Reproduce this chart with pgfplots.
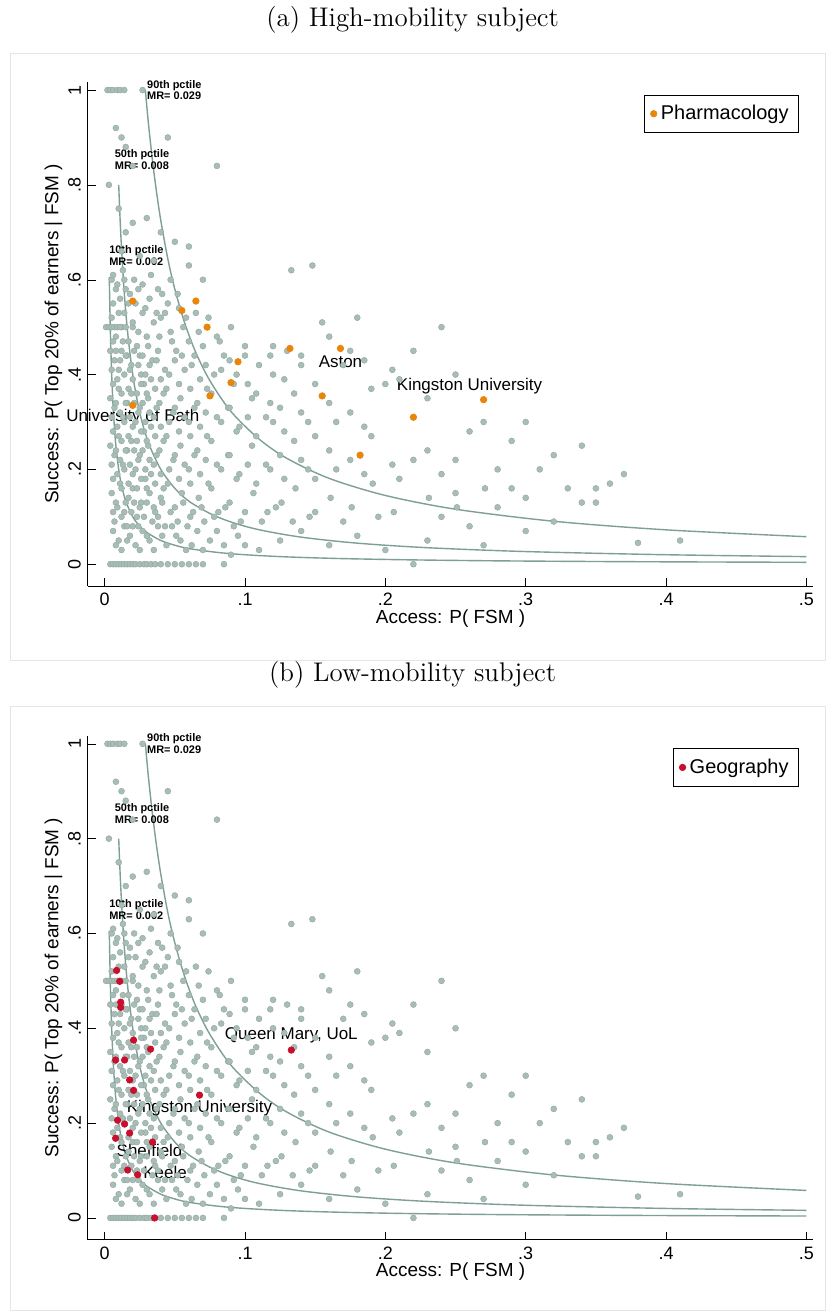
\documentclass[border=0pt]{standalone}
\usepackage{pgfplots}
\pgfplotsset{compat=1.18}
\usepackage{pgfplotstable}
\usepackage{fontspec}
\newfontfamily\arial{Liberation Sans}
\definecolor{gpt}{HTML}{A9BDB7}
\definecolor{gedge}{HTML}{8FA8A1}
\definecolor{crv}{HTML}{7E9E98}
\definecolor{orng}{HTML}{E8860C}
\definecolor{crim}{HTML}{C8102E}
\pgfplotstableread{
x y
0.004 0
0.006 0
0.008 0
0.010 0
0.012 0
0.014 0
0.016 0
0.018 0
0.020 0
0.022 0
0.025 0
0.028 0
0.030 0
0.033 0
0.036 0
0.040 0
0.045 0
0.050 0
0.055 0
0.060 0
0.065 0
0.070 0
0.085 0
0.220 0
0.002 1
0.004 1
0.006 1
0.009 1
0.011 1
0.014 1
0.027 1
0.001 0.5
0.003 0.5
0.005 0.5
0.007 0.5
0.009 0.5
0.012 0.5
0.015 0.5
0.008 0.92
0.012 0.90
0.015 0.88
0.020 0.84
0.045 0.90
0.080 0.84
0.003 0.80
0.010 0.75
0.015 0.70
0.020 0.72
0.030 0.73
0.040 0.70
0.050 0.68
0.060 0.67
0.012 0.66
0.025 0.65
0.035 0.64
0.060 0.63
0.070 0.60
0.148 0.63
0.133 0.62
0.180 0.52
0.240 0.50
0.155 0.51
0.005 0.60
0.008 0.58
0.011 0.56
0.014 0.60
0.018 0.57
0.022 0.55
0.027 0.59
0.032 0.56
0.038 0.58
0.045 0.55
0.052 0.57
0.058 0.52
0.065 0.53
0.004 0.45
0.007 0.43
0.010 0.41
0.013 0.47
0.016 0.44
0.019 0.42
0.023 0.46
0.026 0.40
0.030 0.48
0.034 0.43
0.038 0.45
0.043 0.41
0.048 0.47
0.055 0.44
0.062 0.42
0.070 0.46
0.078 0.40
0.085 0.44
0.092 0.38
0.100 0.46
0.110 0.42
0.120 0.40
0.004 0.35
0.007 0.33
0.010 0.37
0.013 0.31
0.016 0.34
0.019 0.36
0.022 0.30
0.025 0.33
0.028 0.38
0.031 0.35
0.035 0.31
0.039 0.34
0.044 0.37
0.049 0.32
0.054 0.35
0.060 0.30
0.066 0.34
0.073 0.37
0.080 0.31
0.088 0.33
0.096 0.29
0.105 0.35
0.115 0.31
0.125 0.33
0.135 0.36
0.145 0.30
0.160 0.34
0.175 0.32
0.190 0.37
0.205 0.41
0.004 0.25
0.007 0.23
0.010 0.27
0.013 0.21
0.016 0.24
0.019 0.26
0.022 0.20
0.025 0.23
0.028 0.28
0.031 0.25
0.035 0.21
0.039 0.24
0.044 0.27
0.049 0.22
0.054 0.25
0.060 0.20
0.066 0.24
0.073 0.27
0.080 0.21
0.088 0.23
0.096 0.19
0.105 0.25
0.115 0.21
0.125 0.23
0.135 0.26
0.145 0.20
0.160 0.24
0.175 0.22
0.190 0.27
0.205 0.21
0.230 0.24
0.250 0.22
0.270 0.30
0.280 0.20
0.300 0.30
0.320 0.23
0.340 0.25
0.005 0.15
0.008 0.13
0.011 0.17
0.014 0.11
0.017 0.14
0.020 0.16
0.023 0.10
0.026 0.13
0.029 0.18
0.032 0.15
0.036 0.11
0.040 0.14
0.045 0.17
0.050 0.12
0.055 0.15
0.061 0.10
0.067 0.14
0.074 0.17
0.081 0.11
0.089 0.13
0.097 0.09
0.106 0.15
0.116 0.11
0.126 0.13
0.136 0.16
0.146 0.10
0.161 0.14
0.176 0.12
0.191 0.17
0.206 0.11
0.231 0.14
0.251 0.12
0.271 0.16
0.290 0.16
0.310 0.20
0.350 0.16
0.360 0.17
0.370 0.19
0.006 0.07
0.010 0.05
0.014 0.08
0.018 0.06
0.022 0.04
0.027 0.07
0.032 0.05
0.038 0.08
0.044 0.04
0.051 0.06
0.058 0.03
0.066 0.07
0.075 0.05
0.085 0.04
0.095 0.06
0.110 0.03
0.125 0.05
0.140 0.07
0.160 0.04
0.180 0.06
0.200 0.03
0.230 0.05
0.260 0.08
0.300 0.07
0.380 0.045
0.410 0.05
0.020 0.50
0.040 0.52
0.080 0.48
0.100 0.44
0.120 0.46
0.170 0.42
0.200 0.38
0.250 0.40
0.230 0.35
0.260 0.28
0.290 0.26
0.330 0.16
0.340 0.13
0.006 0.61
0.009 0.59
0.013 0.62
0.017 0.55
0.021 0.60
0.024 0.58
0.029 0.54
0.033 0.61
0.037 0.53
0.041 0.57
0.047 0.60
0.053 0.54
0.006 0.55
0.010 0.53
0.015 0.58
0.005 0.52
0.008 0.48
0.011 0.50
0.014 0.53
0.017 0.47
0.020 0.51
0.024 0.49
0.027 0.53
0.031 0.46
0.035 0.51
0.039 0.48
0.043 0.53
0.047 0.49
0.051 0.45
0.056 0.50
0.060 0.47
0.067 0.49
0.074 0.52
0.082 0.47
0.090 0.50
0.006 0.47
0.012 0.45
0.025 0.44
0.005 0.41
0.006 0.38
0.008 0.45
0.009 0.39
0.011 0.43
0.012 0.36
0.014 0.40
0.015 0.44
0.017 0.37
0.018 0.41
0.020 0.39
0.021 0.45
0.023 0.36
0.024 0.42
0.026 0.38
0.027 0.44
0.029 0.40
0.030 0.36
0.032 0.42
0.033 0.39
0.036 0.37
0.037 0.43
0.040 0.39
0.042 0.36
0.046 0.40
0.050 0.43
0.053 0.38
0.057 0.41
0.061 0.37
0.064 0.44
0.068 0.39
0.072 0.42
0.076 0.36
0.083 0.41
0.089 0.43
0.094 0.40
0.102 0.38
0.108 0.36
0.118 0.44
0.128 0.39
0.140 0.42
0.005 0.31
0.006 0.28
0.008 0.34
0.009 0.29
0.011 0.32
0.012 0.26
0.014 0.30
0.015 0.34
0.017 0.27
0.018 0.31
0.020 0.29
0.021 0.34
0.023 0.26
0.024 0.32
0.026 0.28
0.027 0.34
0.029 0.30
0.030 0.26
0.032 0.32
0.033 0.29
0.036 0.27
0.037 0.33
0.040 0.29
0.042 0.26
0.046 0.30
0.050 0.33
0.053 0.28
0.057 0.31
0.061 0.27
0.064 0.33
0.068 0.29
0.072 0.32
0.076 0.26
0.083 0.30
0.089 0.33
0.094 0.28
0.102 0.31
0.108 0.27
0.118 0.34
0.128 0.28
0.140 0.32
0.150 0.27
0.165 0.30
0.185 0.29
0.005 0.21
0.006 0.18
0.008 0.24
0.009 0.19
0.011 0.22
0.012 0.16
0.014 0.20
0.015 0.24
0.017 0.17
0.018 0.21
0.020 0.19
0.021 0.24
0.023 0.16
0.024 0.22
0.026 0.18
0.027 0.24
0.029 0.20
0.030 0.16
0.032 0.22
0.033 0.19
0.036 0.17
0.037 0.23
0.040 0.19
0.042 0.16
0.046 0.20
0.050 0.23
0.053 0.18
0.057 0.21
0.061 0.17
0.064 0.23
0.068 0.19
0.072 0.22
0.076 0.16
0.083 0.20
0.089 0.23
0.094 0.18
0.102 0.21
0.108 0.17
0.118 0.20
0.128 0.18
0.140 0.22
0.150 0.18
0.165 0.20
0.185 0.19
0.210 0.18
0.240 0.19
0.006 0.11
0.007 0.09
0.009 0.12
0.012 0.10
0.015 0.13
0.016 0.08
0.019 0.11
0.021 0.13
0.024 0.08
0.025 0.12
0.028 0.10
0.030 0.13
0.034 0.09
0.035 0.12
0.038 0.10
0.041 0.13
0.043 0.08
0.047 0.11
0.052 0.09
0.056 0.13
0.059 0.08
0.063 0.11
0.069 0.12
0.071 0.09
0.078 0.10
0.086 0.12
0.092 0.08
0.100 0.11
0.112 0.09
0.122 0.12
0.134 0.09
0.150 0.11
0.170 0.09
0.195 0.10
0.008 0.04
0.012 0.03
0.016 0.05
0.020 0.08
0.025 0.03
0.030 0.06
0.035 0.03
0.041 0.06
0.048 0.08
0.054 0.05
0.062 0.04
0.070 0.03
0.080 0.07
0.090 0.02
0.100 0.04
0.130 0.45
0.140 0.44
0.160 0.48
0.175 0.45
0.185 0.43
0.210 0.39
0.220 0.45
0.150 0.38
0.120 0.30
0.220 0.22
0.250 0.15
0.280 0.12
0.300 0.14
0.320 0.09
0.350 0.13
0.240 0.10
0.270 0.04
}\grey
\pgfplotstableread{
x y
0.020 0.555
0.055 0.535
0.065 0.555
0.073 0.500
0.095 0.427
0.090 0.383
0.075 0.355
0.020 0.335
0.132 0.455
0.168 0.455
0.155 0.355
0.220 0.310
0.182 0.230
0.270 0.347
}\pharm
\pgfplotstableread{
x y
0.0085 0.522
0.0107 0.499
0.0114 0.455
0.0114 0.444
0.0206 0.375
0.0327 0.356
0.0078 0.333
0.0142 0.333
0.0178 0.291
0.0206 0.269
0.0676 0.259
0.1330 0.354
0.0092 0.206
0.0142 0.198
0.0178 0.179
0.0078 0.168
0.0341 0.160
0.0164 0.101
0.0235 0.091
0.0356 0.000
}\geog
\pgfplotstableread{
x y
0.0033 0.606
0.0036 0.556
0.0040 0.500
0.0045 0.444
0.0050 0.400
0.0060 0.333
0.0070 0.286
0.0080 0.250
0.0100 0.200
0.0120 0.167
0.0150 0.133
0.0200 0.100
0.0250 0.080
0.0300 0.067
0.0400 0.050
0.0500 0.040
0.0600 0.033
0.0800 0.025
0.1000 0.020
0.1300 0.0154
0.1700 0.0118
0.2200 0.0091
0.2800 0.0071
0.3500 0.0057
0.4200 0.0048
0.5000 0.0040
}\cten
\pgfplotstableread{
x y
0.0100 0.800
0.0110 0.727
0.0120 0.667
0.0135 0.593
0.0150 0.533
0.0170 0.471
0.0200 0.400
0.0230 0.348
0.0270 0.296
0.0320 0.250
0.0400 0.200
0.0500 0.160
0.0600 0.133
0.0750 0.107
0.0900 0.089
0.1100 0.0727
0.1400 0.0571
0.1800 0.0444
0.2300 0.0348
0.3000 0.0267
0.4000 0.0200
0.5000 0.0160
}\cfifty
\pgfplotstableread{
x y
0.029 1.000
0.031 0.935
0.034 0.853
0.037 0.784
0.040 0.725
0.045 0.644
0.050 0.580
0.057 0.509
0.065 0.446
0.075 0.387
0.090 0.322
0.110 0.264
0.130 0.223
0.160 0.181
0.200 0.145
0.250 0.116
0.320 0.0906
0.400 0.0725
0.500 0.058
}\cninety
\tikzset{
 cl/.style={font=\arial\bfseries\fontsize{5.5}{6}\selectfont, anchor=west, align=left, inner sep=0pt},
 nl/.style={font=\arial\fontsize{8.5}{10}\selectfont, inner sep=0pt},
}
\pgfplotsset{
 panel/.style={scale only axis, width=363.5pt, height=252.5pt,
  xmin=-0.012, xmax=0.505, ymin=-0.046, ymax=1.017,
  axis x line*=bottom, axis y line*=left,
  xtick={0,0.1,0.2,0.3,0.4,0.5}, xticklabels={0,.1,.2,.3,.4,.5},
  ytick={0,0.2,0.4,0.6,0.8,1}, yticklabels={0,.2,.4,.6,.8,1},
  yticklabel style={rotate=90, anchor=south},
  tick style={black}, major tick length=4pt,
  ticklabel style={font=\arial\fontsize{9}{10}\selectfont},
  label style={font=\arial\fontsize{9.5}{11}\selectfont},
  xlabel={Access: P( FSM )}, ylabel={Success: P( Top 20\% of earners \textbar\ FSM )},
  xlabel style={yshift=5pt}, ylabel style={yshift=-4pt},
  legend style={at={(rel axis cs:0.98,0.975)}, anchor=north east, draw=black, font=\arial\fontsize{10}{12}\selectfont, inner sep=3pt},
  legend cell align=left, clip=false,
 },
 gpts/.style={only marks, mark=*, mark size=1.5pt, mark options={fill=gpt, draw=gedge, line width=0.2pt}, forget plot},
 crvs/.style={crv, line width=0.7pt, smooth, forget plot},
}
\begin{document}
\begin{tikzpicture}[x=1pt,y=1pt]
\path[fill=white] (0,0) rectangle (413.5,655.5);
\draw[gray!20] (5,325.5) rectangle (413.5,630);
\draw[gray!20] (5,0) rectangle (413.5,302.5);
\node at (206.75,646.5) {\fontsize{13.5}{15}\selectfont (a) High-mobility subject};
\node at (206.75,318.5) {\fontsize{13.5}{15}\selectfont (b) Low-mobility subject};
\begin{axis}[panel, at={(44pt,363pt)}, anchor=south west]
\addplot[gpts] table[x=x,y=y] {\grey};
\addplot[crvs] table[x=x,y=y] {\cten};
\addplot[crvs] table[x=x,y=y] {\cfifty};
\addplot[crvs] table[x=x,y=y] {\cninety};
\addplot[only marks, mark=*, mark size=1.6pt, color=orng] table[x=x,y=y] {\pharm};
\addlegendentry{Pharmacology}
\node[cl] at (axis cs:0.030,1.0) {90th pctile\\MR= 0.029};
\node[cl] at (axis cs:0.007,0.853) {50th pctile\\MR= 0.008};
\node[cl] at (axis cs:0.003,0.65) {10th pctile\\MR= 0.002};
\node[nl] at (axis cs:0.168,0.428) {Aston};
\node[nl] at (axis cs:0.26,0.375) {Kingston University};
\node[nl] at (axis cs:0.02,0.31) {University of Bath};
\end{axis}
\begin{axis}[panel, at={(44pt,35.5pt)}, anchor=south west]
\addplot[gpts] table[x=x,y=y] {\grey};
\addplot[crvs] table[x=x,y=y] {\cten};
\addplot[crvs] table[x=x,y=y] {\cfifty};
\addplot[crvs] table[x=x,y=y] {\cninety};
\addplot[only marks, mark=*, mark size=1.6pt, color=crim] table[x=x,y=y] {\geog};
\addlegendentry{Geography}
\node[cl] at (axis cs:0.030,1.0) {90th pctile\\MR= 0.029};
\node[cl] at (axis cs:0.007,0.853) {50th pctile\\MR= 0.008};
\node[cl] at (axis cs:0.003,0.65) {10th pctile\\MR= 0.002};
\node[nl] at (axis cs:0.133,0.385) {Queen Mary, UoL};
\node[nl] at (axis cs:0.0676,0.232) {Kingston University};
\node[nl] at (axis cs:0.032,0.143) {Sheffield};
\node[nl] at (axis cs:0.043,0.095) {Keele};
\end{axis}
\end{tikzpicture}
\end{document}
